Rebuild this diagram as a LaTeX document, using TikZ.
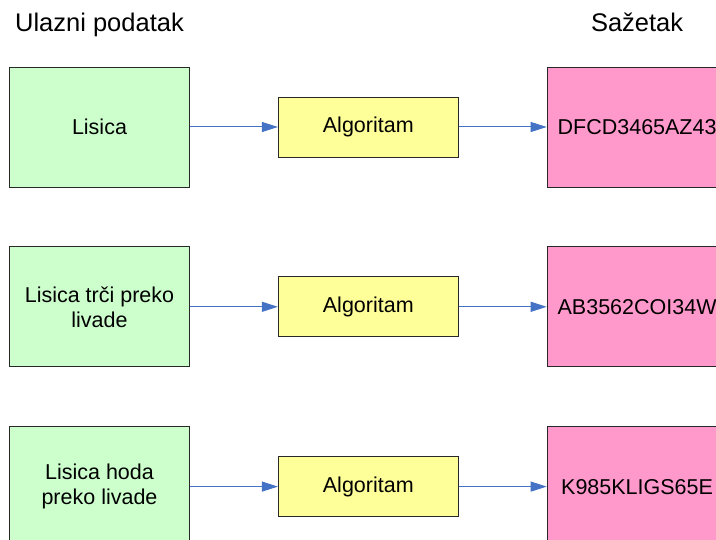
\documentclass[tikz,border=0pt]{standalone}
\usepackage{fontspec}
\setmainfont{Liberation Sans}
\usetikzlibrary{arrows.meta, positioning}
\definecolor{InGreen}{RGB}{204,255,204}
\definecolor{AlgYellow}{RGB}{255,255,153}
\definecolor{HashPink}{RGB}{255,153,204}
\definecolor{BoxRule}{RGB}{40,40,40}
\definecolor{ArrBlue}{RGB}{68,114,196}

\begin{document}
\begin{tikzpicture}[
  x=1pt, y=1pt,
  node distance=59pt and 88pt,
  every node/.style={font=\fontsize{21.5}{25}\selectfont},
  inbox/.style={draw=BoxRule, fill=InGreen, line width=0.8pt,
                minimum width=180pt, minimum height=120pt, align=center, inner sep=0pt},
  algbox/.style={draw=BoxRule, fill=AlgYellow, line width=0.8pt,
                 minimum width=180pt, minimum height=60pt, align=center, inner sep=0pt},
  hashbox/.style={draw=BoxRule, fill=HashPink, line width=0.8pt,
                  minimum width=180pt, minimum height=120pt, align=center, inner sep=0pt},
  head/.style={font=\fontsize{25.5}{30}\selectfont, inner sep=0pt, text depth=0pt},
  arrow/.style={-{Triangle[length=16pt, width=10pt]}, draw=ArrBlue, line width=1pt}
]
\useasboundingbox (0,0) rectangle (716,-540);
\clip (0,0) rectangle (716,-540);
\node[inbox] (in1) at (99.5,-127) {Lisica};
\node[inbox, below=of in1] (in2) {Lisica trči preko\\livade};
\node[inbox, below=of in2] (in3) {Lisica hoda\\preko livade};
\node[algbox, right=of in1] (alg1) {Algoritam};
\node[algbox, right=of in2] (alg2) {Algoritam};
\node[algbox, right=of in3] (alg3) {Algoritam};
\node[hashbox, right=of alg1] (out1) {DFCD3465AZ43};
\node[hashbox, right=of alg2] (out2) {AB3562COI34W};
\node[hashbox, right=of alg3] (out3) {K985KLIGS65E};
\node[head, above=35pt of in1] (hin) {Ulazni podatak};
\node[head, above=35pt of out1] (hout) {Sažetak};
\draw[arrow] (in1) -- (alg1);
\draw[arrow] (in2) -- (alg2);
\draw[arrow] (in3) -- (alg3);
\draw[arrow] (alg1) -- (out1);
\draw[arrow] (alg2) -- (out2);
\draw[arrow] (alg3) -- (out3);
\end{tikzpicture}
\end{document}
